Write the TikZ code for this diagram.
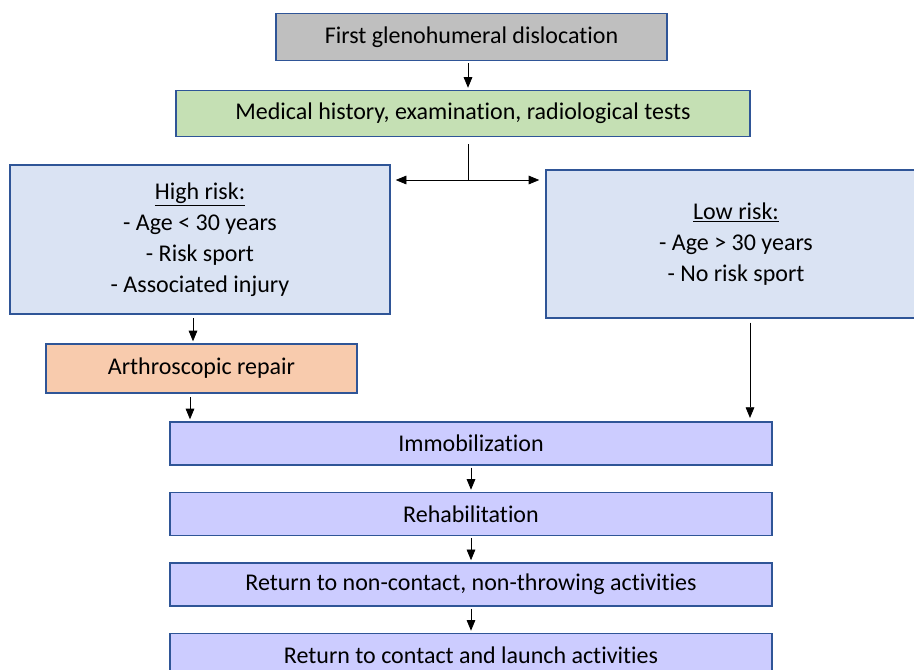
\documentclass[tikz,border=0pt]{standalone}
\usepackage{fontspec}
\setmainfont[Ligatures=NoCommon]{Carlito}
\usepackage{tikz}
\usetikzlibrary{arrows.meta,positioning}
\definecolor{lineblue}{HTML}{2F5597}
\definecolor{greybg}{HTML}{BFBFBF}
\definecolor{greenbg}{HTML}{C5E0B4}
\definecolor{riskbg}{HTML}{DAE3F3}
\definecolor{repairbg}{HTML}{F8CBAD}
\definecolor{stagebg}{HTML}{CCCCFF}

\begin{document}
\begin{tikzpicture}[x=0.75pt,y=-0.75pt,node distance=19.5pt,
  box/.style={draw=lineblue,line width=1.1pt,align=center,inner sep=2pt,
              font=\fontsize{18}{23.25}\selectfont},
  stage/.style={box,fill=stagebg,minimum width=451.5pt,minimum height=32.25pt},
  arr/.style={-{Triangle[width=6.5pt,length=8pt]},line width=0.6pt,
              shorten <=1.5pt,shorten >=1.5pt}]
  \useasboundingbox (0,0) rectangle (914,669);
  \clip (0,0) rectangle (914,669);
  \node[box,fill=greybg,minimum width=293.25pt,minimum height=35.25pt] (first)
    at (471.5,37) {First glenohumeral dislocation};
  \node[box,fill=greenbg,minimum width=430.5pt,minimum height=34.5pt] (exam)
    at (463,113.5) {Medical history, examination, radiological tests};
  \node[box,fill=riskbg,minimum width=285pt,minimum height=111.75pt] (high)
    at (200,239.5) {\underline{High risk:}\\- Age < 30 years\\- Risk sport\\- Associated injury};
  \node[box,fill=riskbg,minimum width=285pt,minimum height=111pt] (low)
    at (736,244) {\underline{Low risk:}\\- Age > 30 years\\- No risk sport};
  \node[box,fill=repairbg,minimum width=233.25pt,minimum height=36.75pt] (repair)
    at (201.5,368.5) {Arthroscopic repair};
  \node[stage] (immob) at (471,443.5) {Immobilization};
  \node[stage,below=of immob] (rehab) {Rehabilitation};
  \node[stage,below=of rehab] (noncontact) {Return to non-contact, non-throwing activities};
  \node[stage,below=of noncontact] (contact) {Return to contact and launch activities};

  \coordinate (split) at (468,180);
  \coordinate (hx) at (193,0);
  \coordinate (rx) at (190,0);
  \coordinate (lx) at (750,0);
  \draw[arr] (first.south -| split) -- (exam.north -| split);
  \draw[line width=0.6pt,shorten <=5.25pt] (exam.south -| split) -- (split);
  \draw[arr,shorten <=0pt,shorten >=3.75pt] (split) -- (high.east |- split);
  \draw[arr,shorten <=0pt,shorten >=4.5pt] (split) -- (low.west |- split);
  \draw[arr,shorten <=2.5pt] (high.south -| hx) -- (repair.north -| hx);
  \draw[arr,shorten <=2.5pt] (repair.south -| rx) -- (immob.north -| rx);
  \draw[arr,shorten <=3pt,shorten >=2.5pt] (low.south -| lx) -- (immob.north -| lx);
  \draw[arr] (immob) -- (rehab);
  \draw[arr] (rehab) -- (noncontact);
  \draw[arr] (noncontact) -- (contact);
\end{tikzpicture}
\end{document}
